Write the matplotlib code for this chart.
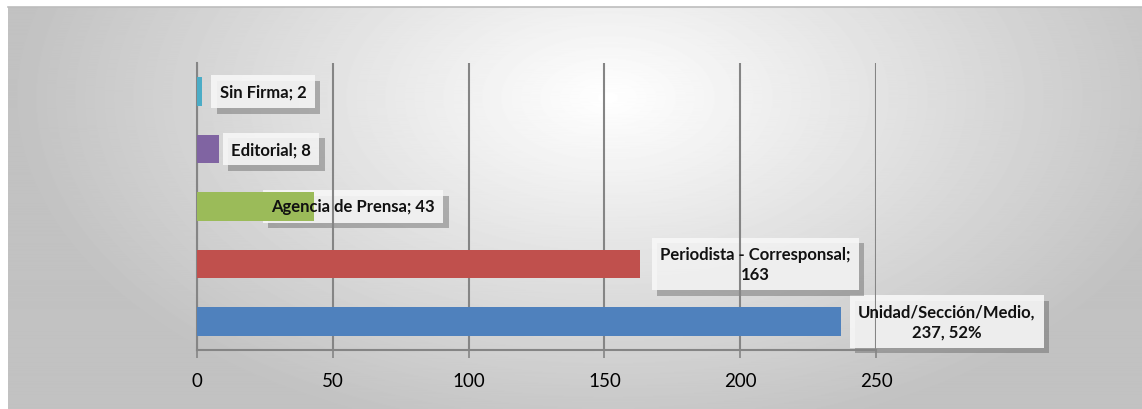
import matplotlib.pyplot as plt
import matplotlib.patheffects as pe
import numpy as np

categories = ['Unidad/Sección/Medio', 'Periodista - Corresponsal', 'Agencia de Prensa', 'Editorial', 'Sin Firma']
values = [237, 163, 43, 8, 2]
labels = ['Unidad/Sección/Medio,\n237, 52%', 'Periodista - Corresponsal;\n163',
          'Agencia de Prensa; 43', 'Editorial; 8', 'Sin Firma; 2']
ticks = [0, 50, 100, 150, 200, 250]

colors = ['#4F81BD', '#C0504D', '#9BBB59', '#8064A2', '#4BACC6']
# where the data label boxes sit along x (data units)
label_x = [276, 205.5, 57.4, 27.2, 24.3]

plt.rcParams['font.family'] = ['Lato', 'DejaVu Sans']

fig = plt.figure(figsize=(11.42, 4.10), dpi=100, facecolor='white')

# radial grey background of the chart area
bg = fig.add_axes([8 / 1142, 0, 1 - 8 / 1142, 1 - 8 / 410])
bg.set_axis_off()
h, w = 400, 1134
yy, xx = np.mgrid[0:h, 0:w]
r = np.sqrt(((xx - 600) / 620.0) ** 2 + ((yy - 90) / 360.0) ** 2)
shade = np.clip(1.0 - 0.25 * r, 0.76, 1.0)
bg.imshow(shade, cmap='gray', vmin=0, vmax=1, aspect='auto', extent=[0, 1, 0, 1])
bg.set_xlim(0, 1)
bg.set_ylim(0, 1)
fig.add_artist(plt.Line2D([8 / 1142, 1], [1 - 8 / 410, 1 - 8 / 410], color='#bdbdbd', lw=1.2))

ax = fig.add_axes([197 / 1142, 59 / 410, 679 / 1142, 287 / 410])
ax.patch.set_alpha(0)
y = np.arange(len(categories))
ax.barh(y, values, height=0.5, color=colors, zorder=3)
ax.set_xlim(0, 250)
ax.set_ylim(-0.5, len(categories) - 0.5)
ax.set_xticks(ticks)
ax.set_yticks([])
ax.grid(axis='x', color='#858585', lw=1.5, zorder=1)
for s in ['top', 'right']:
    ax.spines[s].set_visible(False)
for s in ['left', 'bottom']:
    ax.spines[s].set_color('#858585')
    ax.spines[s].set_linewidth(1.5)
ax.tick_params(axis='x', direction='out', length=6, width=1.2, color='#858585',
               labelsize=13.5, pad=10)

shadow = [pe.SimplePatchShadow(offset=(4, -4), shadow_rgbFace='#555555', alpha=0.4), pe.Normal()]
for i, (lab, lx) in enumerate(zip(labels, label_x)):
    kw = dict(ha='center', va='center', fontsize=12, fontweight='bold',
              clip_on=False, linespacing=1.3)
    # box behind the grid and bars, text on top of everything
    box = ax.text(lx, i, lab, color='none', zorder=0.5,
                  bbox=dict(boxstyle='square,pad=0.5', facecolor='#f7f7f7', edgecolor='none', alpha=0.9), **kw)
    box.get_bbox_patch().set_path_effects(shadow)
    ax.text(lx, i, lab, color='#111111', zorder=5, **kw)

fig.savefig('out.png', dpi=100, facecolor=fig.get_facecolor())
